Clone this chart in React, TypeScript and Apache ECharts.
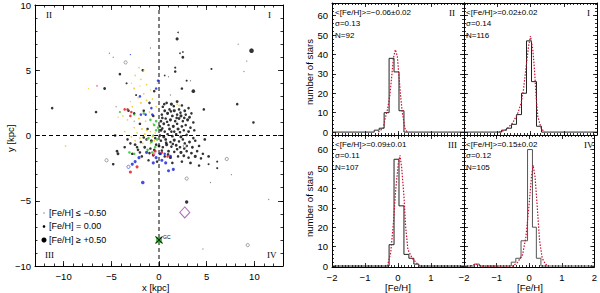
import React, { useEffect, useRef } from "react";
import * as echarts from "echarts";

// ---------------- Left panel: stars [x (kpc), y (kpc), [Fe/H]] ----------------
const blackStars: number[][] = [
  [-11.2, 2.1, 0.0], [-6.6, 1.8, 0.0], [-5.7, 3.6, 0.05], [-4.1, 4.7, 0.0], [-3.4, 4.0, -0.1],
  [-1.7, 5.0, 0.0], [1.9, 7.4, 0.1], [2.0, 7.9, -0.2], [2.2, 6.3, -0.2], [2.5, 6.4, -0.2],
  [2.5, 6.0, 0.05], [1.7, 5.2, -0.1], [1.7, 4.9, 0.0], [0.6, 4.6, -0.2], [2.9, 4.2, -0.1],
  [2.4, 3.6, 0.0], [3.6, 3.4, 0.2], [4.7, 2.0, 0.0], [5.5, 5.1, -0.1], [9.7, 6.5, 0.4],
  [8.2, 2.4, 0.0], [9.9, 1.0, 0.0], [-4.8, -2.2, 0.0], [-4.3, -1.4, 0.05], [5.2, -1.6, 0.05],
  [5.2, -2.2, -0.1], [6.1, -2.0, -0.1], [6.1, -2.5, -0.1], [2.9, -5.1, 0.15],
  [0.8, 2.5, 0], [1.3, 2.4, 0.1], [1.9, 2.6, 0.05], [2.4, 2.3, 0], [0.4, 2.2, 0],
  [0.6, 1.9, 0.05], [1.1, 2.0, 0], [1.6, 1.9, 0.1], [2.1, 2.0, 0], [2.7, 1.9, 0.05], [3.1, 2.1, 0], [3.4, 1.7, 0],
  [0.3, 1.6, 0], [0.9, 1.7, 0.1], [1.4, 1.5, 0.05], [1.9, 1.6, 0], [2.3, 1.5, 0.1], [2.8, 1.6, 0], [3.2, 1.4, 0.05],
  [0.2, 1.1, 0.05], [0.7, 1.3, 0], [1.2, 1.2, 0.1], [1.7, 1.1, 0], [2.1, 1.3, 0.05], [2.5, 1.1, 0], [3.0, 1.2, 0.1], [3.6, 1.0, 0],
  [0.1, 0.7, 0], [0.5, 0.9, 0.05], [1.0, 0.8, 0], [1.5, 0.7, 0.1], [1.9, 0.9, 0], [2.4, 0.7, 0.05], [2.8, 0.8, 0], [3.3, 0.6, 0],
  [0.2, 0.4, 0.1], [0.6, 0.3, 0], [1.1, 0.5, 0.05], [1.6, 0.3, 0], [2.0, 0.5, 0.1], [2.6, 0.4, 0], [3.1, 0.3, 0.05],
  [0.1, 0.0, 0], [0.5, -0.1, 0.1], [0.9, 0.1, 0], [1.4, -0.05, 0.05], [1.8, 0.1, 0], [2.3, -0.1, 0.1], [2.9, 0.05, 0], [3.6, -0.2, 0], [4.8, -0.3, 0.05],
  [0.2, -0.4, 0], [0.7, -0.3, 0.05], [1.2, -0.5, 0], [1.6, -0.35, 0.1], [2.1, -0.45, 0], [2.5, -0.3, 0], [3.2, -0.5, 0.05], [3.8, -0.4, 0],
  [0.0, -0.8, 0.05], [0.4, -0.9, 0], [0.8, -0.7, 0.1], [1.3, -0.85, 0], [1.8, -0.75, 0.05], [2.2, -0.9, 0], [2.9, -0.8, 0], [3.5, -0.9, 0.05],
  [0.3, -1.15, 0], [1.0, -1.2, 0.05], [1.6, -1.25, 0], [2.3, -1.3, 0.1], [2.9, -1.2, 0], [3.4, -1.35, 0.05], [4.0, -1.2, 0], [4.6, -1.4, 0],
  [0.6, -1.6, 0], [1.2, -1.7, 0.05], [2.0, -1.6, 0], [2.6, -1.55, 0.05], [3.1, -1.7, 0], [3.8, -1.6, 0.1], [4.4, -1.75, 0],
  [1.4, -2.1, 0], [2.4, -2.0, 0], [3.3, -2.1, 0.05], [4.2, -2.3, 0],
  [-0.4, -0.2, 0], [-0.8, -0.4, 0.05], [-1.3, -0.3, 0], [-1.9, -0.5, 0], [-2.5, -0.7, 0.05], [-3.0, -0.6, 0], [-3.6, -0.9, 0],
  [-2.2, -1.1, 0], [-1.5, -0.9, 0.05], [-0.9, -1.0, 0], [-0.3, -0.7, 0], [-2.8, -1.4, 0], [-1.8, -1.6, 0], [-0.6, -1.5, 0.05],
  [-3.3, -0.3, 0], [-1.1, -1.9, 0], [-0.2, -2.0, 0],
  [-1.2, 0.5, 0], [-2.0, 0.9, 0], [-0.6, 1.5, 0], [-1.6, 1.9, 0], [-2.6, 1.7, 0], [-3.2, 1.9, 0], [-1.0, 2.5, 0],
  [-2.4, 3.1, -0.1], [-0.5, 3.4, 0], [-4.6, 0.0, 0], [-4.4, -1.2, 0.05],
  [0.35, 1.35, 0], [1.25, 1.85, 0], [2.25, 1.75, 0], [0.85, 1.05, 0], [1.85, 1.35, 0], [2.65, 1.35, 0], [0.35, 0.55, 0],
  [1.3, 0.3, 0], [2.2, 0.25, 0], [0.75, -0.55, 0], [1.45, -0.65, 0], [2.7, -0.6, 0], [0.15, -1.4, 0], [1.9, -1.05, 0],
  [3.7, 0.4, 0], [4.2, -0.8, 0], [0.95, -1.45, 0], [2.65, -1.0, 0],
  [-1.6, -0.15, 0], [-2.3, -0.9, 0], [-1.0, -1.35, 0], [-2.0, -1.3, 0], [-0.5, -1.1, 0], [1.55, 2.25, 0], [0.55, 2.4, 0],
];
const yellowStars: number[][] = [
  [-7.4, 3.6, -0.3], [-9.8, -0.8, -0.2], [-2.1, 5.2, -0.2], [-1.6, 5.0, -0.2], [-2.5, 4.6, -0.2],
  [-2.9, 4.0, -0.3], [-1.9, 4.3, -0.2], [-1.3, 3.9, -0.2], [-2.6, 3.6, -0.1], [-1.6, 3.2, -0.2],
  [-0.9, 3.5, -0.3], [-2.2, 2.9, -0.2], [-1.3, 2.7, -0.2], [-0.7, 2.8, -0.2], [-1.9, 2.5, -0.1],
  [-0.3, 2.2, -0.2], [-2.8, 2.2, -0.2], [-1.0, 1.8, -0.2], [-3.8, 1.5, -0.2], [-3.3, 1.2, -0.2],
  [-2.1, 1.3, -0.1], [-1.4, 1.1, -0.2], [-0.6, 0.9, -0.2], [-2.6, 0.6, -0.2], [-1.8, 0.5, -0.1],
  [-0.9, 0.3, -0.2], [-2.3, 0.2, -0.2], [-1.5, 0.1, -0.1], [-0.7, -0.1, -0.2], [-2.9, -0.1, -0.2],
  [-2.0, -0.2, -0.1], [-1.2, -0.3, -0.1], [-0.4, 0.2, -0.2], [-1.7, -0.6, -0.2], [-2.5, -0.4, -0.2],
  [-0.9, -0.6, -0.2], [-3.6, 0.3, -0.2], [-1.3, 0.4, -0.2], [-0.5, -0.4, -0.2], [1.9, 2.4, -0.2],
  [2.1, 2.3, -0.2], [-2.0, 3.8, -0.3], [-4.3, 1.4, -0.3], [-3.0, 2.6, -0.3], [-0.2, 4.0, -0.3],
];
const greenStars: number[][] = [
  [-4.1, 1.8, -0.1], [-2.6, 1.6, -0.1], [-0.5, 0.8, 0], [-0.3, 0.4, 0], [-0.6, 0.0, -0.1],
  [-0.2, -0.3, 0], [-0.8, -0.5, 0], [-0.4, -0.9, 0], [-1.2, -1.1, 0], [-3.1, -1.3, 0],
  [-2.6, -1.4, 0], [-0.9, 1.2, 0], [-1.6, 1.7, 0], [-0.3, 1.1, 0], [-1.1, -0.2, 0],
  [-0.1, 0.6, 0], [-0.7, -1.3, 0],
];
const blueStars: number[][] = [
  [-3.0, 6.2, -0.3], [-0.1, 4.2, 0], [-0.3, 3.6, 0], [-2.0, 3.0, 0], [-0.8, 2.1, 0],
  [-1.9, 1.6, 0], [-1.4, 1.6, 0], [-0.7, 1.6, 0], [-2.5, -2.0, 0.1], [-2.8, -2.2, 0.1],
  [-1.7, -3.6, 0.2], [-1.3, -1.3, 0.1], [-0.6, -2.1, 0.1], [0.3, -1.9, 0.1], [0.1, -1.4, 0.1],
  [1.0, -2.7, 0.1], [1.5, -2.6, 0.1], [0.7, -2.1, 0.1], [1.2, -1.6, 0.1], [-0.3, -1.7, 0.1],
  [-2.1, -1.7, 0.1], [0.6, -1.4, 0.0],
];
const redStars: number[][] = [
  [-3.6, 2.0, 0], [-3.3, 2.0, 0], [-2.9, 1.8, 0], [-3.0, 1.5, 0], [-3.0, -2.8, 0.1],
  [-2.3, -2.4, 0.1], [-0.4, -1.2, 0.05], [0.3, -1.3, 0], [0.9, -1.6, 0], [-0.6, -1.5, 0],
];
const pinkStars: number[][] = [[-6.5, 3.8, -0.1], [-0.5, -1.4, 0]];
const metalPoorStars: number[][] = [
  [-5.2, 6.3, -0.6], [-4.8, 6.0, -0.6], [8.3, 7.0, -0.6], [9.2, 5.7, -0.6], [8.9, 4.9, -0.6],
  [7.6, -3.0, -0.6], [5.4, -3.6, -0.6], [11.5, -4.9, -0.6], [4.6, -8.7, -0.6], [-0.9, 6.7, -0.6],
  [3.3, 4.2, -0.6], [-2.6, 1.1, -0.6], [1.2, 3.1, -0.6], [1.0, 4.5, -0.6], [-4.5, 2.2, -0.6],
];
const openStars: number[][] = [[-5.5, -1.9], [7.1, -1.8], [2.9, -3.3], [9.3, -8.4], [-3.5, 5.6], [2.7, -0.8]];
const openBlueStars: number[][] = [[-3.2, -2.4]];
const galacticCentre: number[][] = [[0, -8]];
const diamondMark: number[][] = [[2.7, -5.9]];

const kpcXTicks = [-10, -5, 0, 5, 10];
const kpcYTicks = [-10, -5, 0, 5, 10];
const quadrantLabels = ["II", "I", "III", "IV"];
const legendLabels = ["[Fe/H] \u2264 \u22120.50", "[Fe/H] = 0.00", "[Fe/H] \u2265 +0.50"];
const legendFeH = [-0.6, 0.0, 0.5];

// ---------------- Right panels: [Fe/H] histograms ----------------
const fehTicks = [-2, -1, 0, 1, 2];
const countTicks = [0, 10, 20, 30, 40, 50, 60];

const edgesII = [-0.72, -0.57, -0.42, -0.27, -0.12, 0.03, 0.18];
const countsII = [1, 2, 10, 38, 31, 11];
const fitII = [[-0.6, 0], [-0.45, 2], [-0.39, 7], [-0.32, 11.5], [-0.25, 18.5], [-0.19, 28.7], [-0.14, 38], [-0.08, 42.5], [-0.02, 39], [0.03, 28.7], [0.08, 18.5], [0.13, 10], [0.21, 2], [0.28, 0]];

const edgesI = [-0.87, -0.72, -0.57, -0.42, -0.27, -0.12, 0.03, 0.18, 0.33];
const countsI = [1, 2, 4, 9, 20, 47, 26, 3];
const fitI = [[-0.94, 0], [-0.74, 1.2], [-0.54, 4.6], [-0.38, 9.8], [-0.28, 15], [-0.21, 22], [-0.13, 34], [-0.06, 44], [0.0, 49.5], [0.07, 42.5], [0.12, 32], [0.17, 18], [0.22, 8], [0.32, 2], [0.42, 0]];

const edgesIII = [-0.27, -0.12, 0.03, 0.18, 0.33, 0.48, 0.63];
const countsIII = [11, 55, 31, 6, 4, 1];
const fitIII = [[-0.32, 0], [-0.22, 7], [-0.14, 22], [-0.07, 39], [0.01, 53], [0.06, 57], [0.11, 51], [0.18, 36], [0.23, 20.5], [0.3, 8.5], [0.43, 4], [0.54, 2], [0.64, 0]];

const edgesIV = [-1.68, -1.53, -0.55, -0.41, -0.25, -0.05, 0.1, 0.22, 0.36];
const countsIV = [1, 0, 2, 4, 13, 60, 20, 4];
const fitIV = [[-1.8, 0], [-1.65, 1], [-1.45, 0], [-0.5, 0], [-0.35, 2], [-0.2, 6], [-0.1, 15], [0.0, 32], [0.07, 46], [0.12, 52], [0.18, 46], [0.25, 30], [0.32, 13], [0.4, 4], [0.5, 1], [0.58, 0]];

const statLabels = [
  ["<[Fe/H]>=\u22120.06\u00b10.02", "\u03c3=0.13", "N=92"],
  ["<[Fe/H]>=0.02\u00b10.02", "\u03c3=0.14", "N=116"],
  ["<[Fe/H]>=0.09\u00b10.01", "\u03c3=0.11", "N=107"],
  ["<[Fe/H]>=0.15\u00b10.02", "\u03c3=0.12", "N=105"],
];

// ---------------- helpers ----------------
const FONT = "Liberation Sans";
const fmtNum = (v: number) => (v < 0 ? "\u2212" + Math.abs(v) : String(v));
const range = (a: number, b: number, s: number) => {
  const out: number[] = [];
  for (let v = a; v <= b + 1e-9; v += s) out.push(Math.round(v * 1000) / 1000);
  return out;
};

function stepOutline(edges: number[], counts: number[]) {
  const pts: number[][] = [[-2, 0], [edges[0], 0]];
  counts.forEach((c, i) => {
    pts.push([edges[i], c]);
    pts.push([edges[i + 1], c]);
  });
  pts.push([edges[edges.length - 1], 0]);
  pts.push([2, 0]);
  return pts;
}

const symSize = (v: number[]) => Math.max(1.2, Math.min(5.2, 2.6 + 5 * v[2]));

export default function App() {
  const ref = useRef<HTMLDivElement>(null);
  useEffect(() => {
    if (!ref.current) return;
    const chart = echarts.init(ref.current, undefined, { renderer: "svg" });

    const grids = [
      { left: 35, top: 4, width: 248, height: 262 },
      { left: 332, top: 3, width: 132, height: 132 },
      { left: 464, top: 3, width: 133, height: 132 },
      { left: 332, top: 135, width: 132, height: 132 },
      { left: 464, top: 135, width: 133, height: 132 },
    ];
    const xAxes: any[] = [];
    const yAxes: any[] = [];

    function frame(g: number, xr: number[], yr: number[], xMaj: number[], xMin: number[], yMaj: number[], yMin: number[],
      xLab: number[] | null, yLab: number[] | null, major: number, minor: number, fs: number) {
      const xi = xAxes.length, yi = yAxes.length;
      const common = { type: "value", gridIndex: g, splitLine: { show: false } };
      const line = { show: true, onZero: false, lineStyle: { color: "#000", width: 1 } };
      const noLine = { show: false, onZero: false };
      const tick = (vals: number[], len: number) => ({ show: true, inside: true, length: len, customValues: vals, lineStyle: { color: "#000", width: 0.8 } });
      const lab = (vals: number[] | null, margin: number) => vals
        ? { show: true, customValues: vals, formatter: (v: number) => fmtNum(v), color: "#000", fontFamily: FONT, fontSize: fs, margin }
        : { show: false };
      for (const pos of ["bottom", "top"]) {
        xAxes.push({ ...common, min: xr[0], max: xr[1], position: pos, axisLine: line, axisTick: tick(xMaj, major), axisLabel: pos === "bottom" ? lab(xLab, 5) : { show: false } });
        xAxes.push({ ...common, min: xr[0], max: xr[1], position: pos, axisLine: noLine, axisTick: tick(xMin, minor), axisLabel: { show: false } });
      }
      for (const pos of ["left", "right"]) {
        yAxes.push({ ...common, min: yr[0], max: yr[1], position: pos, axisLine: line, axisTick: tick(yMaj, major), axisLabel: pos === "left" ? lab(yLab, 4) : { show: false } });
        yAxes.push({ ...common, min: yr[0], max: yr[1], position: pos, axisLine: noLine, axisTick: tick(yMin, minor), axisLabel: { show: false } });
      }
      return { xi, yi };
    }

    const L = frame(0, [-13, 13], [-10, 10], kpcXTicks, range(-13, 13, 1), kpcYTicks, range(-10, 10, 1), kpcXTicks, kpcYTicks, 5, 2.5, 9.5);
    const upY = [-1.5, 66.5], loY = [-0.5, 67.5];
    const fMin = range(-2, 2, 0.1), cMin = range(0, 66, 2);
    const P = [
      frame(1, [-2, 2], upY, fehTicks, fMin, countTicks, cMin, null, countTicks, 4, 2, 9.5),
      frame(2, [-2, 2], upY, fehTicks, fMin, countTicks, cMin, null, null, 4, 2, 9.5),
      frame(3, [-2, 2], loY, fehTicks, fMin, countTicks, cMin, fehTicks.filter((v) => v < 2), countTicks, 4, 2, 9.5),
      frame(4, [-2, 2], loY, fehTicks, fMin, countTicks, cMin, fehTicks, null, 4, 2, 9.5),
    ];

    const sc = (data: number[][], color: string, z = 3) => ({
      type: "scatter", xAxisIndex: L.xi, yAxisIndex: L.yi, data, symbol: "circle",
      symbolSize: symSize, itemStyle: { color }, z, silent: true,
    });
    const ring = (data: number[][], color: string) => ({
      type: "scatter", xAxisIndex: L.xi, yAxisIndex: L.yi, data, symbol: "circle", symbolSize: 3.2,
      itemStyle: { color: "#fff", borderColor: color, borderWidth: 0.7 }, z: 4, silent: true,
    });

    const hist = [
      [edgesII, countsII, fitII], [edgesI, countsI, fitI], [edgesIII, countsIII, fitIII], [edgesIV, countsIV, fitIV],
    ] as any[];
    const histSeries: any[] = [];
    hist.forEach(([e, c, f], i) => {
      histSeries.push({
        type: "line", xAxisIndex: P[i].xi, yAxisIndex: P[i].yi, data: stepOutline(e, c), symbol: "none",
        lineStyle: { color: i === 3 ? "#555" : "#222", width: 1 }, z: 4, silent: true,
      });
      histSeries.push({
        type: "line", xAxisIndex: P[i].xi, yAxisIndex: P[i].yi, data: f, symbol: "none",
        lineStyle: { color: "#c8102e", width: 1.2, type: [1.5, 1.5] }, z: 5, silent: true,
      });
    });

    const graphics: any[] = [];
    const qpos = [[46, 10], [268, 10], [45, 250], [267, 250]];
    quadrantLabels.forEach((t, i) => graphics.push({ type: "text", x: qpos[i][0], y: qpos[i][1], style: { text: t, fontFamily: "Liberation Serif", fontSize: 9, fill: "#000" } }));
    const hq = [[449, 8], [587, 8], [448, 140], [584, 140]];
    quadrantLabels.forEach((t, i) => graphics.push({ type: "text", x: hq[i][0], y: hq[i][1], style: { text: t, fontFamily: "Liberation Serif", fontSize: 9, fill: "#000" } }));
    const sp = [[335, 8], [466, 8], [335, 140], [466, 140]];
    statLabels.forEach((ls, i) => ls.forEach((t, j) => graphics.push({
      type: "text", x: sp[i][0], y: sp[i][1] + j * 11.5, style: { text: t, fontFamily: FONT, fontSize: 8, fill: "#000" },
    })));
    legendLabels.forEach((t, i) => {
      const y = 213 + i * 13.5;
      graphics.push({ type: "circle", shape: { cx: 44, cy: y, r: symSize([0, 0, legendFeH[i]]) / 2 }, style: { fill: i === 0 ? "#666" : "#000" } });
      graphics.push({ type: "text", x: 49, y: y - 5, style: { text: t, fontFamily: FONT, fontSize: 9, fill: "#000" } });
    });
    graphics.push({ type: "text", x: 163, y: 234, style: { text: "GC", fontFamily: FONT, fontSize: 5, fill: "#000" } });
    graphics.push({ type: "text", x: 142, y: 282, style: { text: "x [kpc]", fontFamily: FONT, fontSize: 9.5, fill: "#000" } });
    graphics.push({ type: "text", x: 5, y: 152, rotation: Math.PI / 2, style: { text: "y [kpc]", fontFamily: FONT, fontSize: 9.5, fill: "#000" } });
    [70, 202].forEach((cy) => graphics.push({ type: "text", x: 304, y: cy + 35, rotation: Math.PI / 2, style: { text: "number of stars", fontFamily: FONT, fontSize: 9.5, fill: "#000" } }));
    [399, 531].forEach((cx) => graphics.push({ type: "text", x: cx - 14, y: 282, style: { text: "[Fe/H]", fontFamily: FONT, fontSize: 9.5, fill: "#000" } }));

    chart.setOption({
      animation: false,
      grid: grids.map((g) => ({ ...g, containLabel: false })),
      xAxis: xAxes,
      yAxis: yAxes,
      series: [
        { type: "line", xAxisIndex: L.xi, yAxisIndex: L.yi, data: [[0, -10], [0, 10]], symbol: "none", lineStyle: { color: "#000", width: 1, type: [4, 3] }, z: 2, silent: true },
        { type: "line", xAxisIndex: L.xi, yAxisIndex: L.yi, data: [[-13, 0], [13, 0]], symbol: "none", lineStyle: { color: "#000", width: 1, type: [4, 3] }, z: 2, silent: true },
        sc(blackStars, "#000"),
        sc(metalPoorStars, "#666"),
        sc(yellowStars, "#f2c40f", 4),
        sc(greenStars, "#1fbf1f", 4),
        sc(blueStars, "#1020e0", 4),
        sc(redStars, "#e01010", 4),
        sc(pinkStars, "#ff6fb0", 4),
        ring(openStars, "#555"),
        ring(openBlueStars, "#1020e0"),
        { type: "scatter", xAxisIndex: L.xi, yAxisIndex: L.yi, data: galacticCentre, symbol: "rect", symbolSize: 6, itemStyle: { color: "#1fbf1f" }, z: 5, silent: true },
        { type: "scatter", xAxisIndex: L.xi, yAxisIndex: L.yi, data: galacticCentre, symbol: "path://M0 1L1 0L5 4L9 0L10 1L6 5L10 9L9 10L5 6L1 10L0 9L4 5Z", symbolSize: 8, itemStyle: { color: "#000" }, z: 6, silent: true },
        { type: "scatter", xAxisIndex: L.xi, yAxisIndex: L.yi, data: diamondMark, symbol: "diamond", symbolSize: [10, 11], itemStyle: { color: "rgba(0,0,0,0)", borderColor: "#a040b0", borderWidth: 1 }, z: 5, silent: true },
        ...histSeries,
      ],
      graphic: graphics,
    });
    return () => chart.dispose();
  }, []);
  return <div ref={ref} style={{ position: "absolute", left: 0, top: 0, width: 600, height: 293, background: "#fff" }} />;
}
